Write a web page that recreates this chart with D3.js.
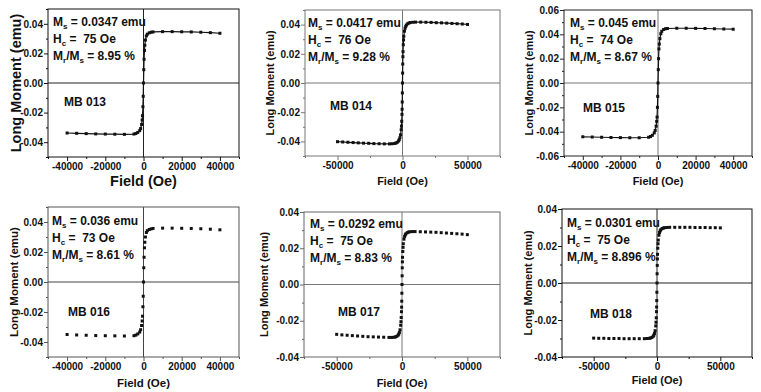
<!DOCTYPE html>
<html>
<head>
<meta charset="utf-8">
<script src="https://cdn.jsdelivr.net/npm/d3@7"></script>
<style>
  body { margin: 0; background: #fff; }
  svg text { font-family: "Liberation Sans", Arial, sans-serif; font-weight: bold; fill: #111; }
</style>
</head>
<body>
<script>
// field grids (Oe)
const fieldA = [-40000, -35000, -30000, -25000, -20000, -15000, -10000, -5000, -4000, -3000, -2000, -1500, -1000, -700, -500, -300, -150, 0,
  150, 300, 500, 700, 1000, 1500, 2000, 3000, 4000, 5000, 10000, 15000, 20000, 25000, 30000, 35000, 40000];
const fieldB = [-50000, -46000, -42000, -38000, -34000, -30000, -26000, -22000, -18000, -14000, -10000, -8000, -6000, -5000, -4000, -3000,
  -2500, -2000, -1500, -1000, -800, -600, -400, -300, -200, -100, 0, 100, 200, 300, 400, 600, 800, 1000, 1500, 2000, 2500, 3000, 4000,
  5000, 6000, 8000, 10000, 14000, 18000, 22000, 26000, 30000, 34000, 38000, 42000, 46000, 50000];

// long moment (emu)
const mb013 = [-0.0338, -0.0340, -0.0342, -0.0344, -0.0345, -0.0346, -0.0347, -0.0345, -0.0341, -0.0334, -0.0322, -0.0308, -0.0280,
  -0.0250, -0.0220, -0.0160, -0.0090, 0.0000, 0.0090, 0.0160, 0.0220, 0.0255, 0.0290, 0.0318, 0.0330, 0.0339, 0.0343, 0.0345, 0.0347,
  0.0347, 0.0346, 0.0345, 0.0343, 0.0340, 0.0336];
const mb014 = [-0.0402, -0.0404, -0.0406, -0.0408, -0.0410, -0.0412, -0.0413, -0.0415, -0.0416, -0.0417, -0.0417, -0.0416, -0.0414,
  -0.0411, -0.0406, -0.0397, -0.0388, -0.0375, -0.0355, -0.0320, -0.0295, -0.0262, -0.0215, -0.0180, -0.0130, -0.0068, 0.0000,
  0.0068, 0.0130, 0.0180, 0.0215, 0.0262, 0.0295, 0.0320, 0.0355, 0.0375, 0.0388, 0.0397, 0.0406, 0.0411, 0.0414, 0.0416, 0.0417,
  0.0417, 0.0416, 0.0415, 0.0413, 0.0412, 0.0410, 0.0408, 0.0406, 0.0404, 0.0401];
const mb015 = [-0.0442, -0.0444, -0.0446, -0.0448, -0.0449, -0.0450, -0.0450, -0.0446, -0.0440, -0.0430, -0.0410, -0.0390, -0.0355,
  -0.0315, -0.0280, -0.0200, -0.0110, 0.0000, 0.0110, 0.0200, 0.0280, 0.0320, 0.0365, 0.0405, 0.0425, 0.0440, 0.0446, 0.0448, 0.0450,
  0.0450, 0.0449, 0.0448, 0.0446, 0.0444, 0.0442];
const mb016 = [-0.0350, -0.0353, -0.0355, -0.0357, -0.0358, -0.0359, -0.0360, -0.0358, -0.0354, -0.0346, -0.0334, -0.0318, -0.0290,
  -0.0260, -0.0228, -0.0165, -0.0095, 0.0000, 0.0095, 0.0165, 0.0228, 0.0265, 0.0300, 0.0330, 0.0342, 0.0350, 0.0354, 0.0357, 0.0359,
  0.0359, 0.0358, 0.0357, 0.0355, 0.0352, 0.0348];
const mb017 = [-0.0275, -0.0278, -0.0280, -0.0282, -0.0284, -0.0286, -0.0288, -0.0289, -0.0290, -0.0291, -0.0292, -0.0292, -0.0291,
  -0.0289, -0.0286, -0.0280, -0.0274, -0.0265, -0.0250, -0.0225, -0.0205, -0.0182, -0.0150, -0.0125, -0.0092, -0.0048, 0.0000,
  0.0048, 0.0092, 0.0125, 0.0150, 0.0182, 0.0205, 0.0225, 0.0250, 0.0265, 0.0274, 0.0280, 0.0286, 0.0289, 0.0291, 0.0292, 0.0292,
  0.0291, 0.0290, 0.0289, 0.0288, 0.0286, 0.0284, 0.0282, 0.0280, 0.0278, 0.0275];
const mb018 = [-0.0298, -0.0299, -0.0299, -0.0300, -0.0300, -0.0300, -0.0301, -0.0301, -0.0301, -0.0301, -0.0301, -0.0300, -0.0299,
  -0.0297, -0.0294, -0.0288, -0.0282, -0.0273, -0.0258, -0.0232, -0.0212, -0.0188, -0.0155, -0.0130, -0.0095, -0.0050, 0.0000,
  0.0050, 0.0095, 0.0130, 0.0155, 0.0188, 0.0212, 0.0232, 0.0258, 0.0273, 0.0282, 0.0288, 0.0294, 0.0297, 0.0299, 0.0300, 0.0301,
  0.0301, 0.0301, 0.0301, 0.0301, 0.0300, 0.0300, 0.0300, 0.0299, 0.0299, 0.0298];

// tick values
const xTicks40 = [-40000, -20000, 0, 20000, 40000];
const xMinor40 = [-50000, -30000, -10000, 10000, 30000, 50000];
const xTicks50 = [-50000, 0, 50000];
const xMinor50 = [-75000, -25000, 25000, 75000];
const yTicks05 = [-0.04, -0.02, 0, 0.02, 0.04];
const yMinor05 = [-0.05, -0.03, -0.01, 0.01, 0.03, 0.05];
const yTicks06 = [-0.06, -0.04, -0.02, 0, 0.02, 0.04, 0.06];
const yMinor06 = [-0.05, -0.03, -0.01, 0.01, 0.03, 0.05];
const yTicks04 = [-0.04, -0.02, 0, 0.02, 0.04];
const yMinor04 = [-0.03, -0.01, 0.01, 0.03];

// annotations
const sampleNames = ["MB 013", "MB 014", "MB 015", "MB 016", "MB 017", "MB 018"];
const msValues = ["0.0347", "0.0417", "0.045", "0.036", "0.0292", "0.0301"];
const hcValues = ["75", "76", "74", "73", "75", "75"];
const ratioValues = ["8.95", "9.28", "8.67", "8.61", "8.83", "8.896"];

const panels = [
  { field: fieldA, moment: mb013, xDomain: [-50000, 50000], xTicks: xTicks40, xMinor: xMinor40, yDomain: [-0.05, 0.05], yTicks: yTicks05, yMinor: yMinor05,
    left: 48, right: 239, top: 9, bottom: 157, frame: "#111", zero: "#222", line: true, labelSize: 14.5, yLabelX: 16, xLabelY: 186,
    note: [53, 26], name: [64, 106] },
  { field: fieldB, moment: mb014, xDomain: [-75000, 75000], xTicks: xTicks50, xMinor: xMinor50, yDomain: [-0.05, 0.05], yTicks: yTicks05, yMinor: yMinor05,
    left: 305, right: 500, top: 10, bottom: 156, frame: "#777", zero: "#777", line: true, labelSize: 11, yLabelX: 270, xLabelY: 185,
    note: [308, 27], name: [330, 110] },
  { field: fieldA, moment: mb015, xDomain: [-50000, 50000], xTicks: xTicks40, xMinor: xMinor40, yDomain: [-0.06, 0.06], yTicks: yTicks06, yMinor: yMinor06,
    left: 564, right: 752, top: 10, bottom: 156, frame: "#222", zero: "#777", line: true, labelSize: 11, yLabelX: 529, xLabelY: 185,
    note: [570, 27], name: [583, 112] },
  { field: fieldA, moment: mb016, xDomain: [-50000, 50000], xTicks: xTicks40, xMinor: xMinor40, yDomain: [-0.05, 0.05], yTicks: yTicks05, yMinor: yMinor05,
    left: 48, right: 239, top: 207, bottom: 357, frame: "#555", zero: "#444", line: false, labelSize: 11.5, yLabelX: 14, xLabelY: 387,
    note: [52, 225], name: [68, 316] },
  { field: fieldB, moment: mb017, xDomain: [-75000, 75000], xTicks: xTicks50, xMinor: xMinor50, yDomain: [-0.04, 0.04], yTicks: yTicks04, yMinor: yMinor04,
    left: 304, right: 500, top: 212, bottom: 357, frame: "#666", zero: "#777", line: false, labelSize: 11, yLabelX: 264, xLabelY: 387,
    note: [310, 228], name: [338, 316] },
  { field: fieldB, moment: mb018, xDomain: [-75000, 75000], xTicks: xTicks50, xMinor: xMinor50, yDomain: [-0.04, 0.04], yTicks: yTicks04, yMinor: yMinor04,
    left: 562, right: 752, top: 209, bottom: 357, frame: "#111", zero: "#222", line: false, labelSize: 11, yLabelX: 528, xLabelY: 384,
    note: [567, 227], name: [590, 318] },
];

const svg = d3.select("body").append("svg").attr("width", 761).attr("height", 392);

panels.forEach((p, i) => {
  const x = d3.scaleLinear().domain(p.xDomain).range([p.left, p.right]);
  const y = d3.scaleLinear().domain(p.yDomain).range([p.bottom, p.top]);
  const g = svg.append("g");

  // minor ticks
  g.append("g")
    .attr("transform", `translate(0,${p.bottom})`)
    .call(d3.axisBottom(x).tickValues(p.xMinor).tickSize(2).tickFormat(""))
    .call((s) => s.select(".domain").remove());
  g.append("g")
    .attr("transform", `translate(${p.left},0)`)
    .call(d3.axisLeft(y).tickValues(p.yMinor).tickSize(2).tickFormat(""))
    .call((s) => s.select(".domain").remove());

  // major ticks
  const xAxis = g.append("g")
    .attr("transform", `translate(0,${p.bottom})`)
    .call(d3.axisBottom(x).tickValues(p.xTicks).tickSize(4).tickPadding(2).tickFormat((d) => String(d)));
  const yAxis = g.append("g")
    .attr("transform", `translate(${p.left},0)`)
    .call(d3.axisLeft(y).tickValues(p.yTicks).tickSize(4).tickPadding(1).tickFormat((d) => d.toFixed(2)));
  [xAxis, yAxis].forEach((a) => {
    a.select(".domain").remove();
    a.selectAll("text").style("font-size", "10px").attr("fill", "#111");
  });
  g.selectAll(".tick line").attr("stroke", p.frame);

  // zero lines
  g.append("line")
    .attr("x1", p.left).attr("x2", p.right)
    .attr("y1", y(0)).attr("y2", y(0))
    .attr("stroke", p.zero).attr("stroke-width", 1);
  g.append("line")
    .attr("x1", x(0)).attr("x2", x(0))
    .attr("y1", p.top).attr("y2", p.bottom)
    .attr("stroke", p.zero).attr("stroke-width", 1);

  // frame
  g.append("rect")
    .attr("x", p.left).attr("y", p.top)
    .attr("width", p.right - p.left).attr("height", p.bottom - p.top)
    .attr("fill", "none").attr("stroke", p.frame).attr("stroke-width", 1);

  const pts = p.field.map((f, k) => [f, p.moment[k]]);

  if (p.line) {
    g.append("path")
      .datum(pts)
      .attr("d", d3.line().x((d) => x(d[0])).y((d) => y(d[1])))
      .attr("fill", "none")
      .attr("stroke", "#111")
      .attr("stroke-width", 1.2);
  }

  g.append("g")
    .selectAll("rect")
    .data(pts)
    .enter()
    .append("rect")
    .attr("x", (d) => x(d[0]) - 1.5)
    .attr("y", (d) => y(d[1]) - 1.5)
    .attr("width", 3)
    .attr("height", 3)
    .attr("fill", "#111");

  // axis titles
  g.append("text")
    .attr("transform", `translate(${p.yLabelX},${(p.top + p.bottom) / 2}) rotate(-90)`)
    .attr("text-anchor", "middle")
    .attr("dy", "0.35em")
    .style("font-size", `${p.labelSize}px`)
    .text("Long Moment (emu)");
  g.append("text")
    .attr("x", (p.left + p.right) / 2)
    .attr("y", p.xLabelY)
    .attr("text-anchor", "middle")
    .style("font-size", `${i === 0 ? 14.5 : p.labelSize}px`)
    .text("Field (Oe)");

  // annotation block
  const note = g.append("g").attr("transform", `translate(${p.note[0]},${p.note[1]})`).style("font-size", "12px");
  const l1 = note.append("text").attr("y", 0).style("white-space", "pre");
  l1.append("tspan").text("M");
  l1.append("tspan").attr("dy", 3).style("font-size", "8px").text("s");
  l1.append("tspan").attr("dy", -3).text(` = ${msValues[i]} emu`);
  const l2 = note.append("text").attr("y", 17).style("white-space", "pre");
  l2.append("tspan").text("H");
  l2.append("tspan").attr("dy", 3).style("font-size", "8px").text("c");
  l2.append("tspan").attr("dy", -3).text(` =  ${hcValues[i]} Oe`);
  const l3 = note.append("text").attr("y", 34).style("white-space", "pre");
  l3.append("tspan").text("M");
  l3.append("tspan").attr("dy", 3).style("font-size", "8px").text("r");
  l3.append("tspan").attr("dy", -3).text("/M");
  l3.append("tspan").attr("dy", 3).style("font-size", "8px").text("s");
  l3.append("tspan").attr("dy", -3).text(` = ${ratioValues[i]} %`);

  g.append("text")
    .attr("x", p.name[0])
    .attr("y", p.name[1])
    .style("font-size", "12px")
    .text(sampleNames[i]);
});
</script>
</body>
</html>
